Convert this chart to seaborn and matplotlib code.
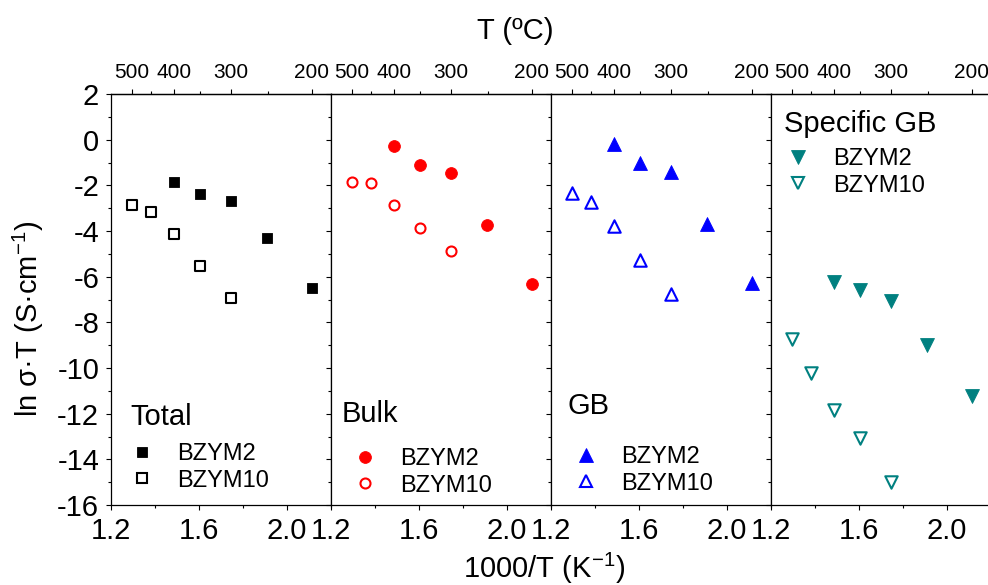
import numpy as np
import pandas as pd
import matplotlib
matplotlib.use("Agg")
import matplotlib.pyplot as plt
import seaborn as sns
from matplotlib.ticker import MultipleLocator, FixedLocator
from matplotlib.lines import Line2D

# ---------------- data ----------------
x_bzym2 = [1.487, 1.605, 1.746, 1.911, 2.113]
x_bzym10 = [1.294, 1.384, 1.487, 1.605, 1.746]

total_bzym2 = [-1.87, -2.37, -2.70, -4.32, -6.50]
total_bzym10 = [-2.85, -3.16, -4.13, -5.55, -6.95]
bulk_bzym2 = [-0.28, -1.10, -1.45, -3.74, -6.31]
bulk_bzym10 = [-1.84, -1.90, -2.85, -3.88, -4.86]
gb_bzym2 = [-0.20, -1.04, -1.40, -3.69, -6.27]
gb_bzym10 = [-2.35, -2.74, -3.77, -5.28, -6.77]
sgb_bzym2 = [-6.22, -6.59, -7.08, -8.99, -11.21]
sgb_bzym10 = [-8.73, -10.21, -11.84, -13.08, -14.98]

panels = ["Total", "Bulk", "GB", "Specific GB"]
samples = ["BZYM2", "BZYM10"]
panel_values = {
    "Total": (total_bzym2, total_bzym10),
    "Bulk": (bulk_bzym2, bulk_bzym10),
    "GB": (gb_bzym2, gb_bzym10),
    "Specific GB": (sgb_bzym2, sgb_bzym10),
}
top_major_T = [500, 400, 300, 200]
top_minor_T = [450, 350, 250]
bottom_ticks = [1.2, 1.6, 2.0]

rows = []
for p in panels:
    v2, v10 = panel_values[p]
    for x, y in zip(x_bzym2, v2):
        rows.append((p, "BZYM2", x, y))
    for x, y in zip(x_bzym10, v10):
        rows.append((p, "BZYM10", x, y))
df = pd.DataFrame(rows, columns=["panel", "sample", "invT", "lnsT"])

# ---------------- style ----------------
sns.set_theme(style="ticks")
plt.rcParams["font.family"] = ["Liberation Sans", "DejaVu Sans"]
plt.rcParams["mathtext.fontset"] = "custom"
plt.rcParams["mathtext.rm"] = "Liberation Sans"
plt.rcParams["mathtext.it"] = "Liberation Sans:italic"
plt.rcParams["axes.unicode_minus"] = False
plt.rcParams["text.color"] = "black"
plt.rcParams["axes.labelcolor"] = "black"
plt.rcParams["xtick.color"] = "black"
plt.rcParams["ytick.color"] = "black"
plt.rcParams["axes.edgecolor"] = "black"

colors = ["#000000", "#FF0000", "#0000FF", "#008080"]
markers = ["s", "o", "^", "v"]
s_filled = [56, 72, 100, 100]
s_open = [45, 52, 80, 80]

W, H = 988, 585
x0, w = 111, 220
y_bot, y_top = 505, 94

title_pos = [(0.086, 0.195), (0.05, 0.202), (0.077, 0.221), (0.059, 0.908)]
legend_pos = [(0.086, 0.151), (0.10, 0.139), (0.105, 0.144), (0.068, 0.869)]


def fwd(x):
    x = np.asarray(x, dtype=float)
    with np.errstate(divide="ignore", invalid="ignore"):
        return 1000.0 / x - 273.15


def inv(t):
    t = np.asarray(t, dtype=float)
    with np.errstate(divide="ignore", invalid="ignore"):
        return 1000.0 / (t + 273.15)


fig = plt.figure(figsize=(W / 100, H / 100), dpi=100)

for i, p in enumerate(panels):
    ax = fig.add_axes([(x0 + i * w) / W, 1 - y_bot / H, w / W, (y_bot - y_top) / H])
    c = colors[i]
    m = markers[i]
    d2 = df[(df.panel == p) & (df["sample"] == "BZYM2")]
    d10 = df[(df.panel == p) & (df["sample"] == "BZYM10")]
    sns.scatterplot(data=d2, x="invT", y="lnsT", ax=ax, marker=m, s=s_filled[i],
                    color=c, edgecolor=c, linewidth=0.6, zorder=3, legend=False)
    sns.scatterplot(data=d10, x="invT", y="lnsT", ax=ax, marker=m, s=s_open[i],
                    facecolor="white", edgecolor=c, linewidth=1.5, zorder=3, legend=False)

    ax.set_xlim(1.2, 2.2)
    ax.set_ylim(-16, 2)
    ax.set_xlabel("")
    ax.set_ylabel("")
    ax.xaxis.set_major_locator(FixedLocator(bottom_ticks))
    ax.xaxis.set_minor_locator(MultipleLocator(0.2))
    ax.yaxis.set_major_locator(MultipleLocator(2))
    ax.yaxis.set_minor_locator(MultipleLocator(1))
    ax.tick_params(axis="both", which="major", direction="out", length=3.5, width=0.8,
                   labelsize=21, pad=5, colors="black")
    ax.tick_params(axis="both", which="minor", direction="out", length=2.0, width=0.8)
    if i > 0:
        ax.tick_params(axis="y", which="both", labelleft=False)
    for sp in ax.spines.values():
        sp.set_visible(True)
        sp.set_linewidth(0.9)
        sp.set_color("black")

    sec = ax.secondary_xaxis("top", functions=(fwd, inv))
    sec.set_xticks(top_major_T)
    sec.set_xticklabels([str(t) for t in top_major_T])
    sec.xaxis.set_minor_locator(FixedLocator(top_minor_T))
    sec.tick_params(axis="x", which="major", direction="out", length=3.5, width=0.8,
                    labelsize=15, pad=5, colors="black")
    sec.tick_params(axis="x", which="minor", direction="out", length=2.0, width=0.8)
    sec.spines["top"].set_linewidth(0.9)
    sec.spines["top"].set_color("black")

    tx, ty = title_pos[i]
    ax.text(tx, ty, p, transform=ax.transAxes, fontsize=21, ha="left", va="baseline",
            color="black")

    ms_f = np.sqrt(s_filled[i])
    ms_o = np.sqrt(s_open[i])
    handles = [
        Line2D([], [], ls="", marker=m, markersize=ms_f, mfc=c, mec=c, mew=0.6),
        Line2D([], [], ls="", marker=m, markersize=ms_o, mfc="white", mec=c, mew=1.5),
    ]
    lx, ly = legend_pos[i]
    ax.legend(handles, samples, loc="upper left", bbox_to_anchor=(lx, ly),
              frameon=False, fontsize=17, handlelength=1.0, handletextpad=1.0,
              borderpad=0, borderaxespad=0, labelspacing=0.2, labelcolor="black")

fig.text(515 / W, 1 - 39 / H, "T (ºC)", fontsize=21, ha="center", va="baseline")
fig.text(544 / W, 1 - 578 / H, "1000/T (K$^{-1}$)", fontsize=21, ha="center", va="baseline")
fig.text(28 / W, 1 - 319 / H, "ln σ·T (S·cm$^{-1}$)", fontsize=21, ha="center",
         va="center", rotation=90)

fig.savefig("out.png", dpi=100)
